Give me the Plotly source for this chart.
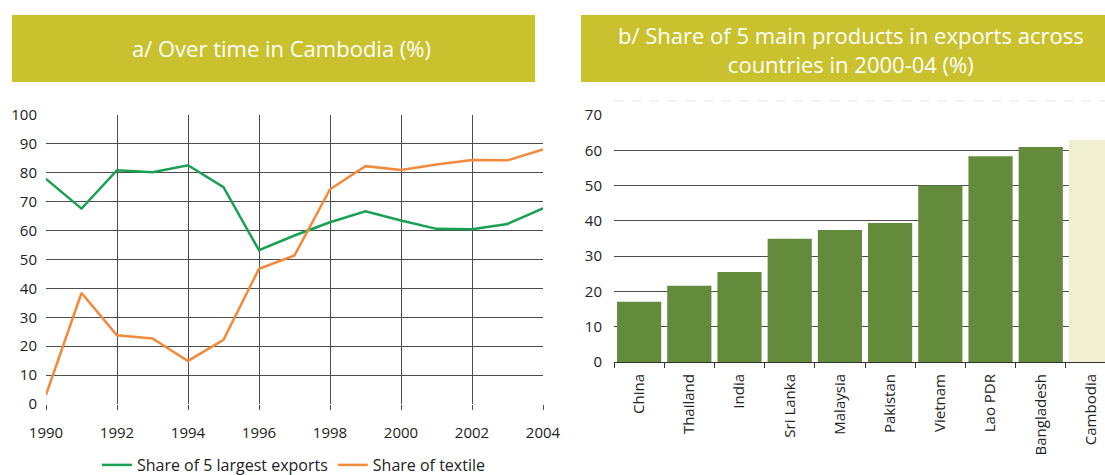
import plotly.graph_objects as go

years = list(range(1990, 2005))
share_top5 = [77.9, 67.6, 80.9, 80.2, 82.6, 75.0, 53.2, 58.3, 62.9, 66.7, 63.5, 60.6, 60.5, 62.3, 67.7]
share_textile = [3.2, 38.4, 23.8, 22.7, 14.9, 22.2, 46.8, 51.4, 74.3, 82.3, 81.0, 82.9, 84.4, 84.3, 88.1]

countries = ["China", "Thailand", "India", "Sri Lanka", "Malaysia", "Pakistan",
             "Vietnam", "Lao PDR", "Bangladesh", "Cambodia"]
share_main5 = [17.1, 21.6, 25.5, 34.9, 37.4, 39.4, 50.0, 58.3, 60.9, 62.9]
bar_colors = ["#648B3C"] * 9 + ["#F0EFD2"]

W, H = 1105, 475
FONT = "Open Sans"
GRID = "#4d4d4d"

fig = go.Figure()
fig.add_trace(go.Scatter(x=years, y=share_top5, mode="lines", name="Share of 5 largest exports",
                         line=dict(color="#1AA053", width=2.5), xaxis="x", yaxis="y"))
fig.add_trace(go.Scatter(x=years, y=share_textile, mode="lines", name="Share of textile",
                         line=dict(color="#F28A3C", width=2.5), xaxis="x", yaxis="y"))
fig.add_trace(go.Bar(x=countries, y=share_main5, marker=dict(color=bar_colors, line=dict(width=0)),
                     showlegend=False, xaxis="x2", yaxis="y2"))

def px(x):
    return x / W

def py(y):
    return (H - y) / H

fig.update_layout(
    width=W, height=H,
    margin=dict(l=0, r=0, t=0, b=0, pad=0, autoexpand=False),
    paper_bgcolor="white", plot_bgcolor="white",
    font=dict(family=FONT, size=15, color="#222"),
    bargap=0.12,
    showlegend=True,
    legend=dict(orientation="h", x=0.266, xanchor="center", y=py(465), yanchor="middle",
                font=dict(family=FONT, size=16, color="#222"),
                tracegroupgap=0, bgcolor="rgba(0,0,0,0)"),
    xaxis=dict(domain=[px(46), px(543)], range=[1990, 2004], dtick=2, tick0=1990,
               automargin=False,
               showgrid=True, gridcolor=GRID, gridwidth=1, zeroline=False,
               showline=False, ticks="outside", ticklen=5, tickcolor=GRID,
               ticklabelstandoff=10,
               tickfont=dict(family=FONT, size=15, color="#222")),
    yaxis=dict(domain=[py(404), py(115)], range=[0, 100], dtick=10,
               automargin=False,
               showgrid=True, gridcolor=GRID, gridwidth=1, zeroline=False,
               showline=False, ticks="", ticklen=0, ticklabelstandoff=8,
               tickfont=dict(family=FONT, size=15, color="#222")),
    xaxis2=dict(domain=[px(614), 1.0], range=[-0.5, 9.28], type="category",
                automargin=False,
                tickson="boundaries", ticks="outside", ticklen=5, tickcolor="#333",
                ticklabelstandoff=5,
                tickangle=-90, showgrid=False, showline=True, linecolor="#333", linewidth=1,
                tickfont=dict(family=FONT, size=15, color="#222"), anchor="y2"),
    yaxis2=dict(domain=[py(362), py(115)], range=[0, 70], dtick=10, anchor="x2",
                automargin=False,
                showgrid=True, gridcolor=GRID, gridwidth=1, zeroline=False,
                showline=False, ticks="", ticklen=0, ticklabelstandoff=11,
                tickfont=dict(family=FONT, size=15, color="#222")),
)

shapes = [
    dict(type="rect", xref="paper", yref="paper", x0=px(12), x1=px(535), y0=py(82), y1=py(15),
         fillcolor="#C9C12D", line=dict(width=0), layer="below"),
    dict(type="rect", xref="paper", yref="paper", x0=px(581), x1=px(1105), y0=py(82), y1=py(15),
         fillcolor="#C9C12D", line=dict(width=0), layer="below"),
    dict(type="line", xref="paper", yref="paper", x0=px(614), x1=1.0, y0=py(101), y1=py(101),
         line=dict(color="#e4e4e4", width=1, dash="dash")),
]
fig.update_layout(shapes=shapes)

fig.add_annotation(xref="paper", yref="paper", x=px(281), y=py(48), text="a/ Over time in Cambodia (%)",
                   showarrow=False, font=dict(family=FONT, size=22, color="white"),
                   xanchor="center", yanchor="middle")
fig.add_annotation(xref="paper", yref="paper", x=px(851), y=py(49),
                   text="b/ Share of 5 main products in exports across<br>countries in 2000-04 (%)",
                   showarrow=False, font=dict(family=FONT, size=22, color="white"),
                   xanchor="center", yanchor="middle", align="center")

fig.write_html("out.html", config={"displayModeBar": False},
               post_script="document.body.style.margin='0';document.body.style.padding='0';"
                           "document.documentElement.style.overflow='hidden';")
